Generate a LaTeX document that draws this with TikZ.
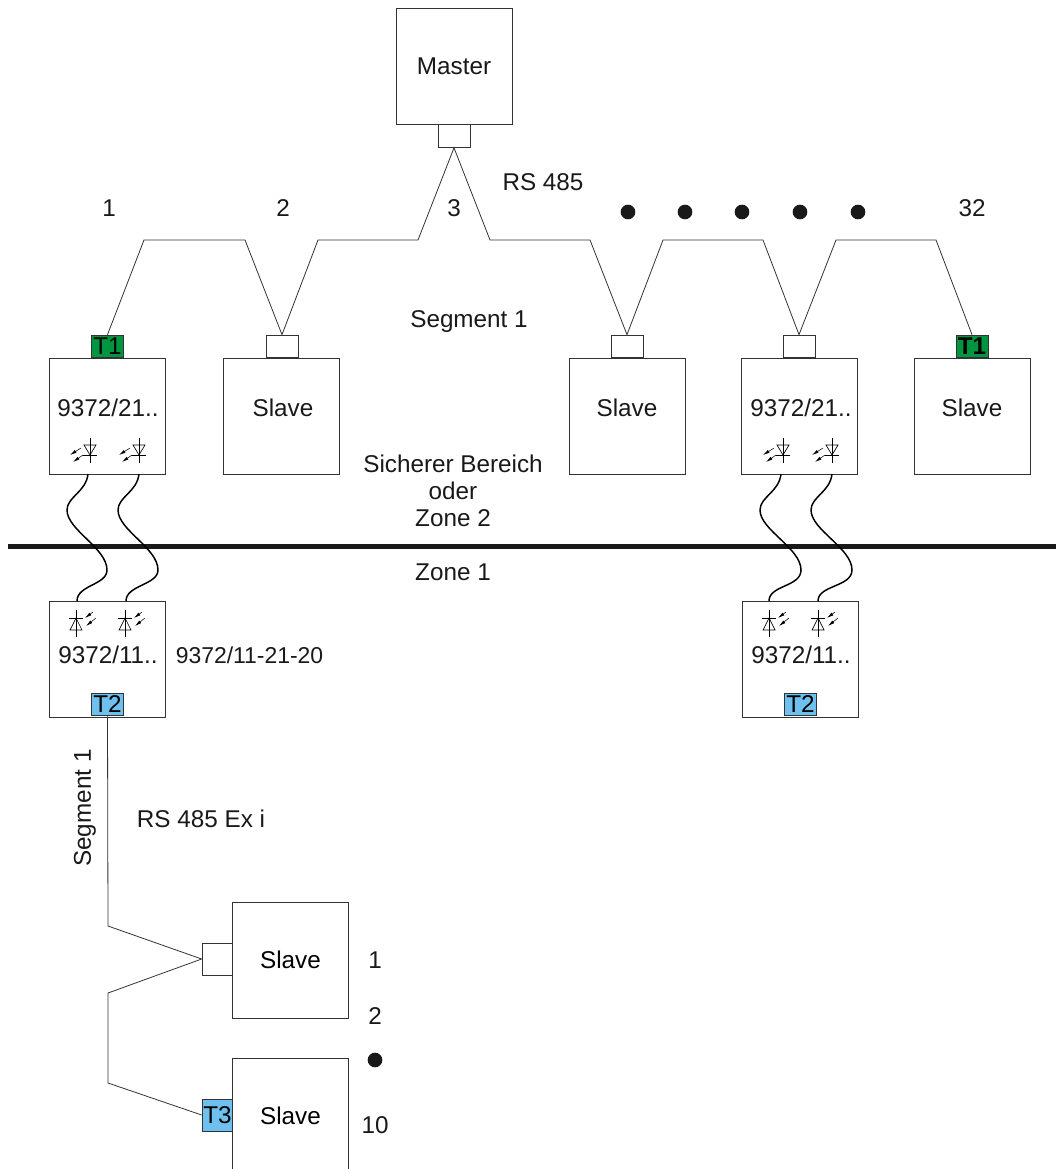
\documentclass[tikz,border=0pt]{standalone}
\usepackage{fontspec}
\setmainfont{Liberation Sans}
\usetikzlibrary{arrows.meta}
\definecolor{termgreen}{HTML}{009640}
\definecolor{termblue}{HTML}{6EC1EE}
\definecolor{linegray}{HTML}{333333}
\tikzset{
    devbox/.style={draw=linegray, line width=0.75pt, minimum width=87pt, minimum height=87pt, inner sep=0pt, fill=white},
    portbox/.style={draw=linegray, line width=0.75pt, minimum width=24pt, minimum height=17pt, inner sep=0pt, fill=white},
    wire/.style={draw=linegray, line width=0.6pt, line join=miter},
    fibre/.style={draw=black, line width=1.1pt},
    label/.style={inner sep=0pt, text=black!90},
    dotmark/.style={circle, fill=black!90, minimum size=11pt, inner sep=0pt},
    lightray/.style={line width=0.4pt, -{Latex[length=5pt,width=2.4pt]}},
    ledrx/.pic={
        \draw[line width=0.5pt] (0,-13) -- (0,12) (-7,4) -- (7,4);
        \draw[line width=0.5pt] (-6,-6) -- (6,-6) -- (0,4) -- cycle;
        \draw[lightray] (-9,-3) -- (-20,4);
        \draw[lightray] (-7,4) -- (-17,11);
    },
    ledtx/.pic={
        \draw[line width=0.5pt] (0,-14) -- (0,13) (-7,-6) -- (7,-6);
        \draw[line width=0.5pt] (-6,6) -- (6,6) -- (0,-6) -- cycle;
        \draw[lightray] (17,-12) -- (9,-6);
        \draw[lightray] (20,-6) -- (10,2);
    }
}
\begin{document}
\begin{tikzpicture}[x=0.75pt, y=-0.75pt, font=\fontsize{18.2pt}{21pt}\selectfont]
    \useasboundingbox (0,0) rectangle (1056,1169);

    \node[devbox] (master) at (454,67) {};
    \node[label] (mastertext) at (454,66) {Master};
    \node[portbox] (pmaster) at (454,136) {};

    \node[devbox] (convA) at (107.5,416) {};
    \node[label] (convAtext) at (108,408) {9372/21..};
    \node[portbox, fill=termgreen] (tA) at (107.5,346.5) {T1};

    \node[devbox] (slaveA) at (281,416) {};
    \node[label] (slaveAtext) at (283,408) {Slave};
    \node[portbox] (pslaveA) at (282,346.5) {};

    \node[devbox] (slaveB) at (627,416) {};
    \node[label] (slaveBtext) at (627,408) {Slave};
    \node[portbox] (pslaveB) at (627,346.5) {};

    \node[devbox] (convB) at (799,416) {};
    \node[label] (convBtext) at (801,408) {9372/21..};
    \node[portbox] (pconvB) at (799,346.5) {};

    \node[devbox] (slaveC) at (972,416) {};
    \node[label] (slaveCtext) at (972,408) {Slave};
    \node[portbox, fill=termgreen, font=\fontsize{18.2pt}{21pt}\selectfont\bfseries] (tB) at (972,346.5) {T1};

    \node[devbox] (exA) at (107.5,659) {};
    \node[label] (exAtext) at (108,655) {9372/11..};
    \node[portbox, fill=termblue] (tC) at (107.5,704.5) {T2};

    \node[devbox] (exB) at (800,659) {};
    \node[label] (exBtext) at (801,655) {9372/11..};
    \node[portbox, fill=termblue] (tD) at (800.5,704.5) {T2};

    \node[devbox] (slaveD) at (290.5,960) {Slave};
    \node[portbox, minimum width=23pt, minimum height=24pt] (pslaveD) at (217.5,959) {};

    \node[devbox] (slaveE) at (290.5,1116) {Slave};
    \node[portbox, minimum width=23pt, minimum height=24pt, fill=termblue] (tE) at (217.5,1115) {T3};

    \coordinate (a1) at (418,240);
    \coordinate (a2) at (318,240);
    \coordinate (a3) at (245,240);
    \coordinate (a4) at (144,240);
    \coordinate (b1) at (490,240);
    \coordinate (b2) at (590,240);
    \coordinate (b3) at (663,240);
    \coordinate (b4) at (763,240);
    \coordinate (b5) at (836,240);
    \coordinate (b6) at (936,240);
    \draw[wire] (pmaster.south) -- (a1) -- (a2) -- (pslaveA.north) -- (a3) -- (a4) -- (tA.north);
    \draw[wire] (pmaster.south) -- (b1) -- (b2) -- (pslaveB.north) -- (b3) -- (b4) -- (pconvB.north) -- (b5) -- (b6) -- (tB.north);

    \coordinate (c1) at (108,926);
    \coordinate (c2) at (108,993);
    \coordinate (c3) at (108,1083);
    \draw[wire] (tC.south) -- (c1) -- (pslaveD.west) -- (c2) -- (c3) -- (tE.west);

    \draw[line width=3.75pt, black!90] (8,546) -- (1056,546);

    \draw[fibre] (88,474) .. controls (86,492) and (67,497) .. (67,510) .. controls (67,530) and (107,548) .. (107,570) .. controls (107,585) and (77,585) .. (77,601);
    \draw[fibre] (139,474) .. controls (137,492) and (118,497) .. (118,510) .. controls (118,530) and (158,548) .. (158,570) .. controls (158,585) and (126,585) .. (126,601);
    \draw[fibre] (781,474) .. controls (779,492) and (760,497) .. (760,510) .. controls (760,530) and (801,548) .. (801,570) .. controls (801,587) and (769,585) .. (769,601);
    \draw[fibre] (832,474) .. controls (830,492) and (811,497) .. (811,510) .. controls (811,530) and (852,548) .. (852,570) .. controls (852,587) and (818,585) .. (818,601);

    \pic at (90,451) {ledrx};
    \pic at (139,451) {ledrx};
    \pic at (783,451) {ledrx};
    \pic at (832,451) {ledrx};
    \pic at (76,624) {ledtx};
    \pic at (125,624) {ledtx};
    \pic at (769,624) {ledtx};
    \pic at (818,624) {ledtx};

    \node[label] (num1) at (109,208) {1};
    \node[label] (num2) at (283,208) {2};
    \node[label] (num3) at (454,208) {3};
    \node[label] (bus) at (543,182) {RS 485};
    \node[label] (num32) at (972,208) {32};
    \foreach \x in {628,685,742,800,858}
        \node[dotmark] at (\x,212) {};
    \node[label] (seg) at (469,322) {Segment 1};
    \node[label] (safeA) at (453,464) {Sicherer Bereich};
    \node[label] (safeB) at (453,491) {oder};
    \node[label] (safeC) at (453,518) {Zone 2};
    \node[label] (zone) at (453,572) {Zone 1};
    \node[label, font=\fontsize{17.2pt}{21pt}\selectfont] (exname) at (249.5,655) {9372/11-21-20};
    \node[label, rotate=90] (segex) at (85,808) {Segment 1};
    \node[label] (busex) at (201,819) {RS 485 Ex i};
    \node[label] (numa) at (375,960) {1};
    \node[label] (numb) at (375,1016) {2};
    \node[dotmark] (dotb) at (375,1060) {};
    \node[label] (numc) at (375,1125) {10};
\end{tikzpicture}
\end{document}
